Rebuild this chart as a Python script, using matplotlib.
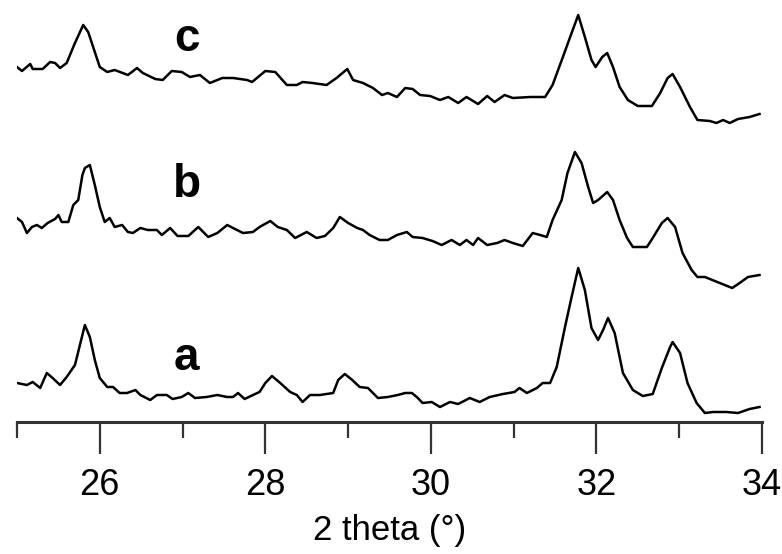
import matplotlib
matplotlib.use("Agg")
import matplotlib.pyplot as plt
from matplotlib.ticker import MultipleLocator

plt.rcParams['font.family'] = ['Liberation Sans', 'DejaVu Sans']

# 2 theta (deg) and intensity (a.u.)
tth_a = [25.00, 25.12, 25.19, 25.28, 25.36, 25.43, 25.52, 25.60, 25.70, 25.76,
         25.82, 25.88, 25.94, 26.00, 26.09, 26.16, 26.24, 26.33, 26.43, 26.49,
         26.61, 26.69, 26.81, 26.88, 26.99, 27.07, 27.15, 27.29, 27.42, 27.54,
         27.61, 27.67, 27.75, 27.85, 27.93, 28.00, 28.08, 28.18, 28.30, 28.38,
         28.45, 28.54, 28.66, 28.82, 28.88, 28.96, 29.05, 29.14, 29.24, 29.36,
         29.48, 29.60, 29.69, 29.77, 29.83, 29.90, 30.01, 30.11, 30.23, 30.33,
         30.47, 30.59, 30.71, 30.87, 31.01, 31.07, 31.16, 31.28, 31.35, 31.44,
         31.52, 31.62, 31.70, 31.78, 31.86, 31.94, 32.02, 32.08, 32.14, 32.22,
         32.32, 32.44, 32.56, 32.68, 32.79, 32.89, 32.92, 33.01, 33.10, 33.21,
         33.31, 33.41, 33.57, 33.71, 33.85, 33.97]
int_a = [37, 35, 38, 32, 47, 42, 35, 43, 55, 75,
         95, 83, 60, 42, 33, 33, 27, 27, 30, 25,
         20, 25, 25, 21, 23, 27, 22, 23, 25, 23,
         23, 27, 21, 25, 28, 37, 44, 37, 28, 25,
         18, 25, 25, 27, 40, 46, 40, 33, 32, 22,
         23, 25, 27, 27, 23, 17, 18, 13, 18, 16,
         22, 18, 23, 26, 28, 32, 27, 32, 37, 37,
         53, 93, 123, 152, 130, 92, 80, 90, 102, 87,
         47, 30, 24, 26, 52, 73, 78, 67, 37, 17,
         7, 8, 8, 7, 11, 13]

tth_b = [25.00, 25.06, 25.12, 25.18, 25.24, 25.30, 25.37, 25.46, 25.50, 25.54,
         25.62, 25.68, 25.74, 25.79, 25.82, 25.88, 25.94, 26.00, 26.06, 26.12,
         26.18, 26.27, 26.34, 26.40, 26.49, 26.58, 26.69, 26.75, 26.85, 26.94,
         27.07, 27.19, 27.31, 27.42, 27.54, 27.61, 27.73, 27.85, 27.93, 28.06,
         28.15, 28.26, 28.36, 28.50, 28.62, 28.72, 28.82, 28.90, 29.00, 29.11,
         29.18, 29.26, 29.38, 29.48, 29.59, 29.71, 29.78, 29.90, 30.02, 30.13,
         30.25, 30.35, 30.43, 30.51, 30.57, 30.68, 30.80, 30.89, 30.99, 31.11,
         31.23, 31.32, 31.40, 31.47, 31.58, 31.65, 31.74, 31.82, 31.90, 31.96,
         32.02, 32.13, 32.20, 32.28, 32.37, 32.44, 32.61, 32.68, 32.79, 32.86,
         32.95, 33.04, 33.15, 33.22, 33.31, 33.49, 33.64, 33.73, 33.83, 33.97]
int_b = [82, 78, 67, 73, 75, 72, 77, 81, 85, 78,
         78, 95, 100, 125, 132, 135, 115, 93, 78, 82,
         73, 75, 68, 67, 72, 70, 70, 65, 72, 64,
         64, 73, 63, 67, 75, 72, 67, 68, 73, 79,
         73, 70, 62, 68, 62, 64, 72, 83, 77, 72,
         70, 65, 60, 60, 65, 68, 63, 62, 59, 55,
         60, 55, 60, 55, 62, 55, 57, 60, 57, 54,
         67, 65, 63, 80, 100, 127, 148, 137, 113, 97,
         100, 108, 100, 80, 62, 53, 53, 62, 77, 82,
         73, 47, 30, 23, 23, 17, 12, 17, 23, 25]

tth_c = [25.00, 25.06, 25.16, 25.19, 25.31, 25.40, 25.46, 25.52, 25.60, 25.70,
         25.80, 25.86, 25.92, 26.00, 26.09, 26.18, 26.34, 26.45, 26.52, 26.67,
         26.76, 26.87, 26.99, 27.09, 27.21, 27.33, 27.48, 27.61, 27.78, 27.84,
         28.00, 28.12, 28.26, 28.38, 28.45, 28.57, 28.74, 28.86, 28.99, 29.06,
         29.18, 29.30, 29.41, 29.48, 29.59, 29.69, 29.78, 29.87, 29.99, 30.11,
         30.21, 30.33, 30.43, 30.57, 30.68, 30.77, 30.89, 30.99, 31.20, 31.38,
         31.47, 31.59, 31.70, 31.78, 31.86, 31.94, 31.99, 32.07, 32.13, 32.20,
         32.28, 32.38, 32.50, 32.67, 32.77, 32.86, 32.92, 33.01, 33.13, 33.22,
         33.37, 33.45, 33.53, 33.61, 33.71, 33.85, 33.97]
int_c = [63, 59, 66, 61, 61, 68, 67, 62, 67, 87,
         105, 98, 83, 63, 58, 60, 55, 62, 57, 51,
         50, 59, 58, 53, 55, 47, 52, 52, 50, 48,
         59, 58, 45, 45, 48, 47, 45, 52, 61, 50,
         47, 42, 35, 37, 33, 42, 41, 35, 34, 30,
         33, 27, 33, 26, 34, 28, 35, 32, 33, 33,
         45, 72, 97, 115, 93, 70, 63, 73, 77, 63,
         43, 30, 24, 24, 37, 52, 56, 43, 23, 10,
         9, 7, 10, 7, 11, 13, 16]

labels = ['a', 'b', 'c']
offsets = [0, 120, 290]
label_y = [50, 223, 369]

fig = plt.figure(figsize=(7.82, 5.54), dpi=100)
ax = fig.add_axes([17 / 782, 132 / 554, 745 / 782, 422 / 554])

for tth, inten, off in zip([tth_a, tth_b, tth_c], [int_a, int_b, int_c], offsets):
    ax.plot(tth, [v + off for v in inten], color='black', linewidth=1.8,
            solid_joinstyle='round')

for lab, ly in zip(labels, label_y):
    ax.text(27.05, ly, lab, fontsize=33, fontweight='bold', ha='center',
            va='baseline')

ax.set_xlim(25, 34)
ax.set_ylim(-2, 420)
for side in ['left', 'right', 'top']:
    ax.spines[side].set_visible(False)
ax.spines['bottom'].set_linewidth(2.2)
ax.spines['bottom'].set_color('#333333')
ax.yaxis.set_visible(False)

ax.xaxis.set_major_locator(MultipleLocator(2))
ax.xaxis.set_minor_locator(MultipleLocator(1))
ax.tick_params(axis='x', which='major', length=23, width=1.6, color='#333333',
               labelsize=26, pad=10)
ax.tick_params(axis='x', which='minor', length=11.5, width=1.6, color='#333333')
ax.set_xlabel('2 theta (°)', fontsize=25, labelpad=8)

fig.savefig('out.png', dpi=100)
